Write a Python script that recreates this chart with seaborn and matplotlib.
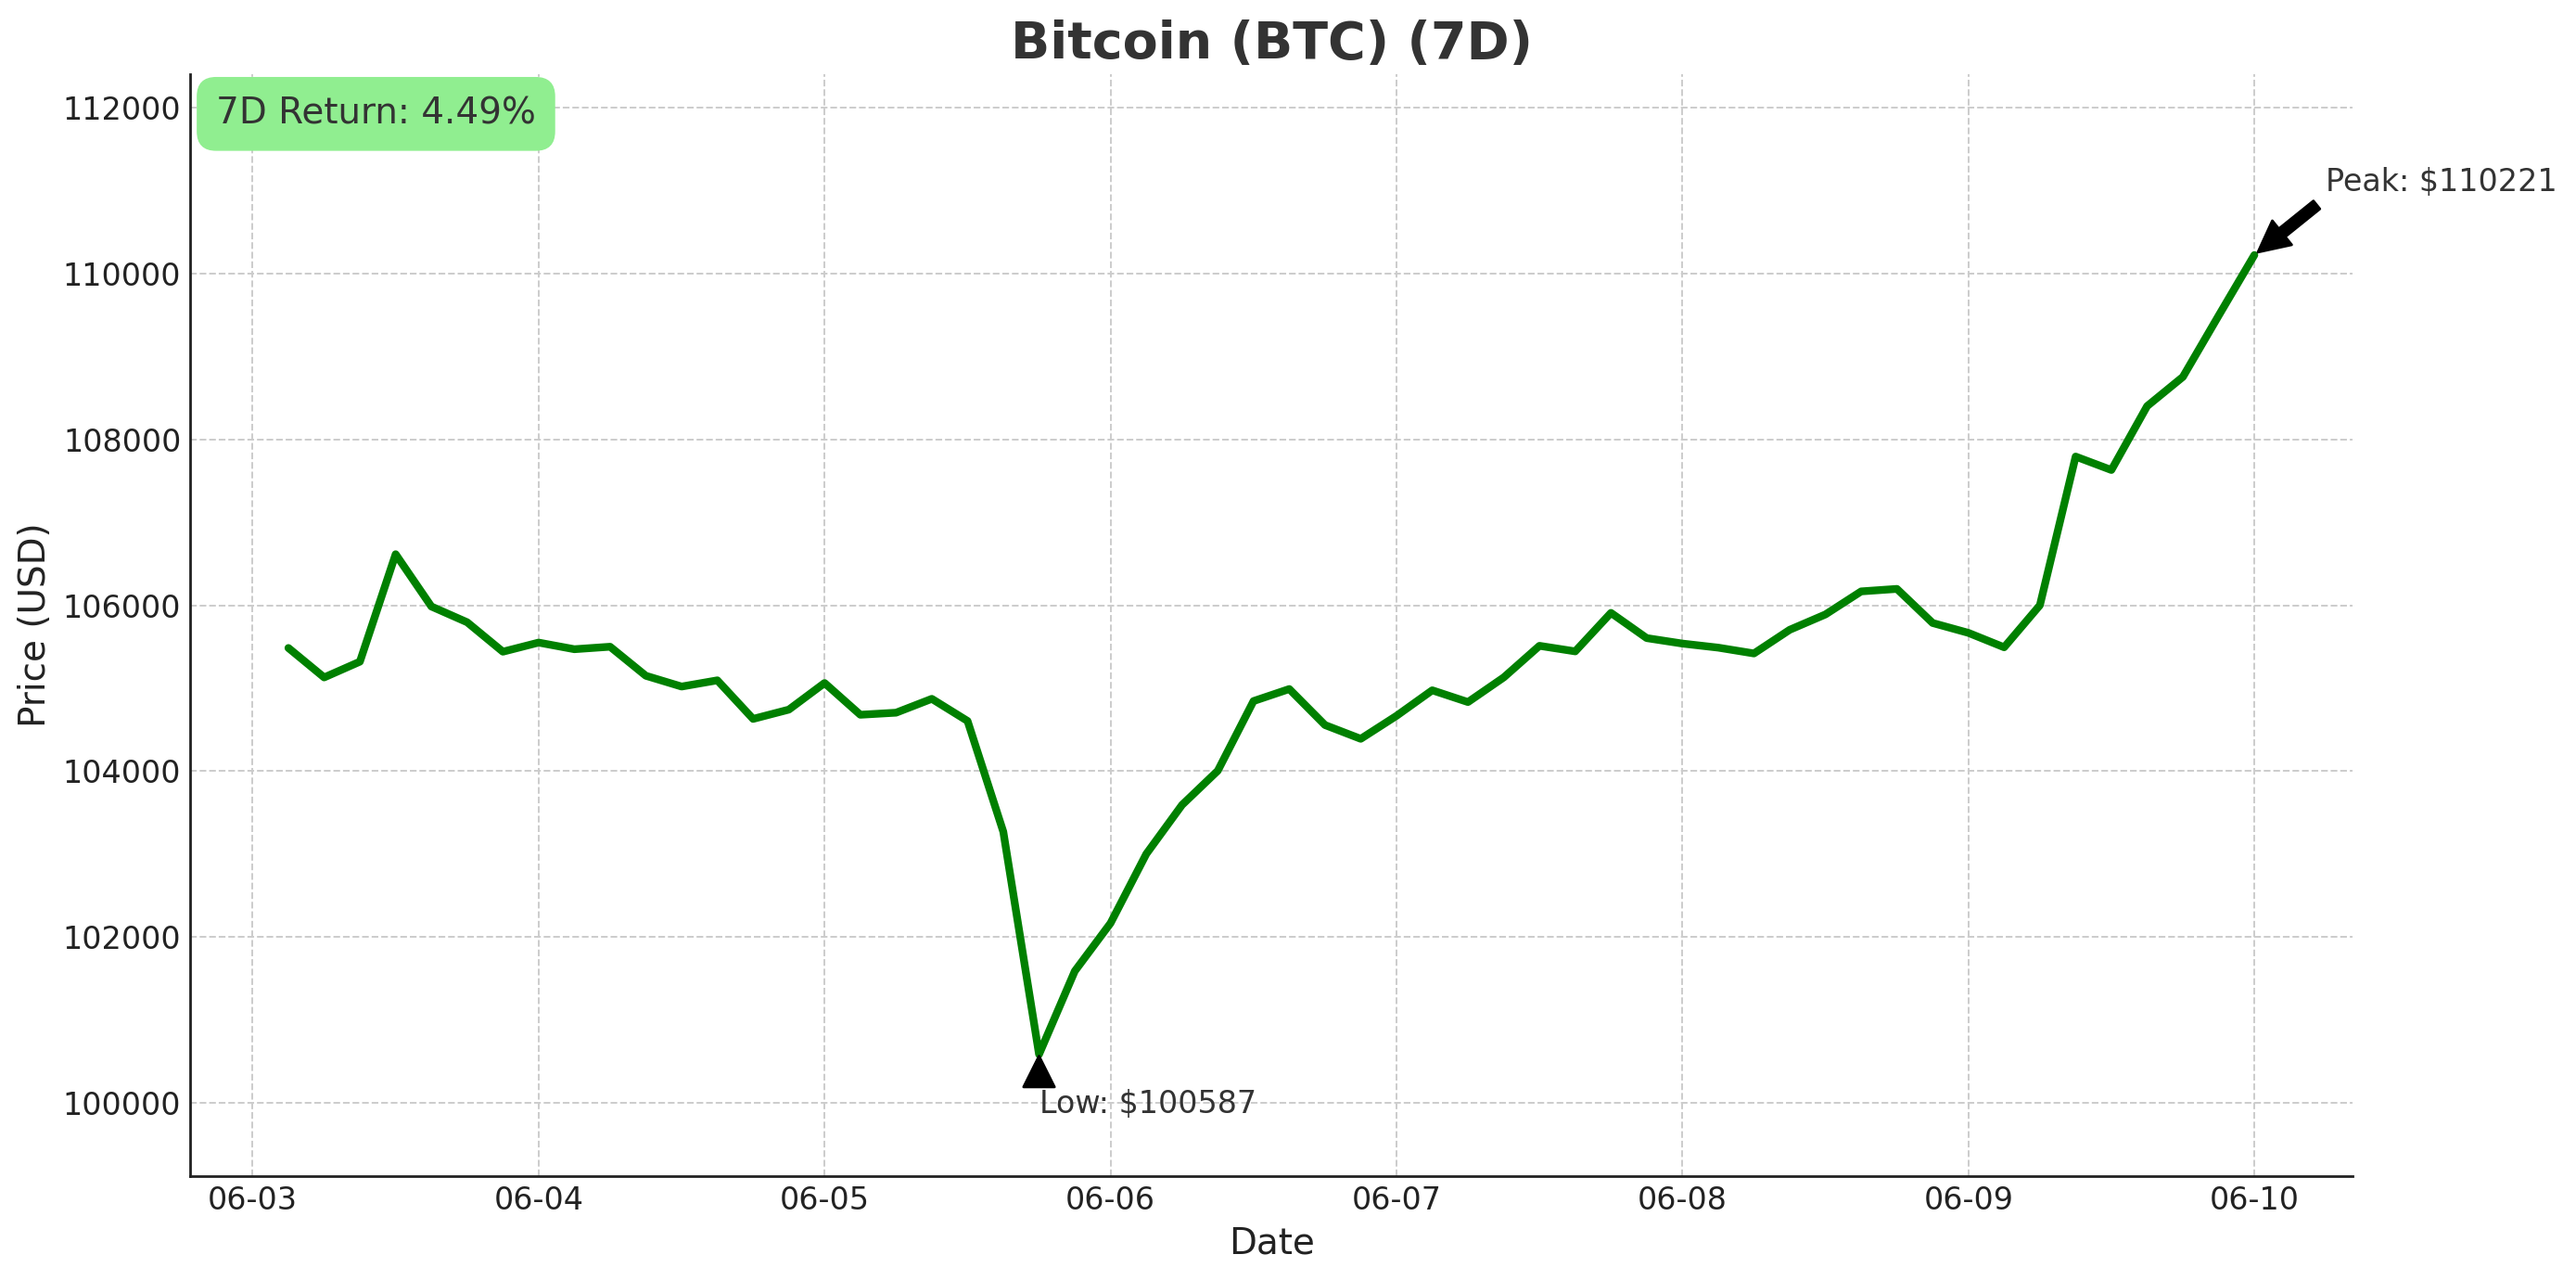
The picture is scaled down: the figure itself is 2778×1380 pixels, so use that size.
import pandas as pd
import seaborn as sns
import matplotlib
matplotlib.use('Agg')
import matplotlib.pyplot as plt
import matplotlib.dates as mdates
from matplotlib.ticker import StrMethodFormatter

coin = 'Bitcoin (BTC)'
period = '7D'
start = '2025-06-03 03:00'
step = '3h'

# 3-hourly closes
prices = [105485, 105130, 105320, 106615, 105985, 105795, 105440, 105550,
          105470, 105500, 105150, 105020, 105095, 104630, 104742, 105063,
          104680, 104705, 104872, 104605, 103270, 100587, 101590, 102168,
          103002, 103593, 104005, 104845, 104990, 104556, 104390, 104667,
          104975, 104833, 105130, 105511, 105444, 105908, 105604, 105538,
          105489, 105419, 105704, 105889, 106167, 106197, 105786, 105667,
          105493, 106000, 107792, 107630, 108400, 108752, 109490, 110221]
y_limits = (99120, 112400)
y_ticks = [100000, 102000, 104000, 106000, 108000, 110000, 112000]

dates = pd.date_range(start, periods=len(prices), freq=step)
df = pd.DataFrame({'Date': dates, 'Price': prices})

sns.set_style('white')
plt.rcParams['font.family'] = 'DejaVu Sans'

fig, ax = plt.subplots(figsize=(13.89, 6.9), dpi=200)
fig.subplots_adjust(left=0.0738, right=0.9133, top=0.942, bottom=0.0812)

sns.lineplot(data=df, x='Date', y='Price', color='green', linewidth=3, ax=ax)

ax.set_ylim(*y_limits)
ax.set_yticks(y_ticks)
ax.yaxis.set_major_formatter(StrMethodFormatter('{x:.0f}'))
ax.xaxis.set_major_locator(mdates.DayLocator())
ax.xaxis.set_major_formatter(mdates.DateFormatter('%m-%d'))

ax.grid(True, linestyle='--', color='#cccccc', linewidth=0.7)
ax.set_axisbelow(True)
sns.despine(ax=ax)
for side in ['left', 'bottom']:
    ax.spines[side].set_color('#222222')
    ax.spines[side].set_linewidth(1.0)
ax.tick_params(direction='in', length=3.5, labelsize=12, colors='#222222')

ax.set_title(f'{coin} ({period})', fontsize=20, fontweight='bold', color='#333333')
ax.set_xlabel('Date', fontsize=14, color='#222222')
ax.set_ylabel('Price (USD)', fontsize=14, color='#222222')

# return badge
ret = (prices[-1] / prices[0] - 1) * 100
ax.text(0.012, 0.98, f'{period} Return: {ret:.2f}%', transform=ax.transAxes,
        fontsize=14, va='top', ha='left', color='#333333',
        bbox=dict(boxstyle='round,pad=0.5', facecolor='lightgreen', edgecolor='lightgreen'))

# low / peak markers
lo_i = df['Price'].idxmin()
hi_i = df['Price'].idxmax()
lo_d, lo_v = df.loc[lo_i, 'Date'], df.loc[lo_i, 'Price']
hi_d, hi_v = df.loc[hi_i, 'Date'], df.loc[hi_i, 'Price']

arrow = dict(facecolor='black', edgecolor='black', shrink=0.05)
ax.annotate(f'Low: ${lo_v:.0f}', xy=(lo_d, lo_v), xytext=(lo_d, lo_v * 0.993),
            arrowprops=arrow, fontsize=12, color='#333333')
ax.annotate(f'Peak: ${hi_v:.0f}', xy=(hi_d, hi_v),
            xytext=(hi_d + pd.Timedelta(hours=6), hi_v * 1.007),
            arrowprops=arrow, fontsize=12, color='#333333')

fig.savefig('out.png', dpi=200)
